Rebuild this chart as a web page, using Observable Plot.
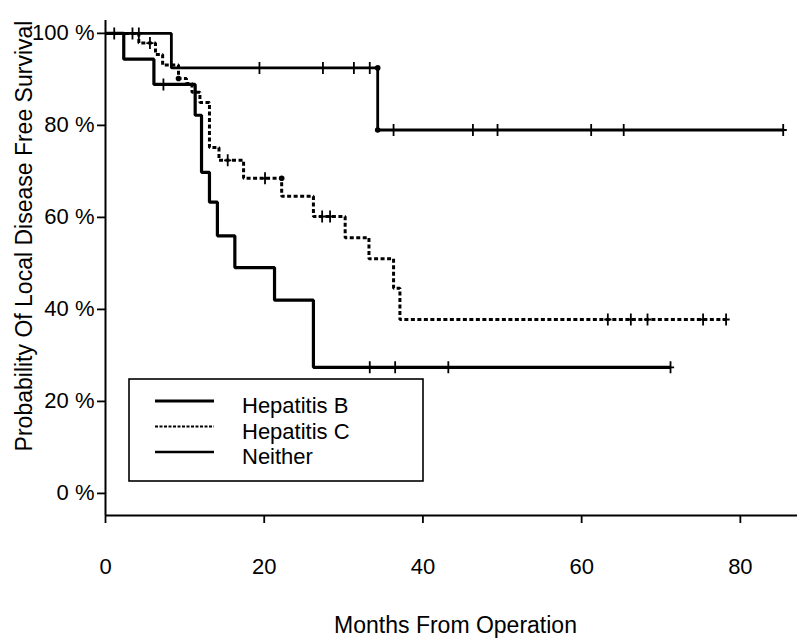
<!DOCTYPE html>
<html><head><meta charset="utf-8">
<script src="https://cdn.jsdelivr.net/npm/d3@7"></script>
<script src="https://cdn.jsdelivr.net/npm/@observablehq/plot@0.6"></script>
<style>
html,body{margin:0;padding:0;background:#fff;}
#wrap{position:relative;width:797px;height:638px;font-family:"Liberation Sans",Arial,sans-serif;}
#legend{position:absolute;left:128px;top:378px;}
</style></head><body><div id="wrap"></div>
<script>
// ---- data ----
const seriesNames = ["Hepatitis B", "Hepatitis C", "Neither"];

const hepBTimes = [0, 2.3, 6.1, 11.3, 12.1, 13.1, 14.1, 16.3, 21.3, 26.2, 71.2];
const hepBSurv  = [100, 94.4, 88.9, 82.2, 69.8, 63.3, 56.0, 49.1, 42.0, 27.4, 27.4];
const hepBCensorTimes = [7.3, 33.3, 36.5, 43.2, 71.2];
const hepBCensorSurv  = [88.9, 27.4, 27.4, 27.4, 27.4];

const hepCTimes = [0, 4.2, 6.3, 7.2, 9.2, 10.2, 10.9, 11.9, 13.1, 14.3, 17.4, 22.2, 26.2, 30.2, 33.2, 36.3, 37.1, 78.2];
const hepCSurv  = [100, 97.9, 95.4, 93.1, 90.2, 89.1, 87.2, 85.0, 75.2, 72.4, 68.5, 64.6, 60.2, 55.6, 51.0, 44.6, 37.8, 37.8];
const hepCCensorTimes = [5.6, 15.4, 20.1, 27.3, 28.3, 63.3, 66.2, 68.3, 75.3, 78.2];
const hepCCensorSurv  = [97.9, 72.4, 68.5, 60.2, 60.2, 37.8, 37.8, 37.8, 37.8, 37.8];
const hepCDotTimes = [9.2, 22.2];
const hepCDotSurv  = [90.2, 68.5];

const neitherTimes = [0, 8.3, 34.3, 85.4];
const neitherSurv  = [100, 92.5, 79.0, 79.0];
const neitherCensorTimes = [1.1, 3.4, 4.2, 19.4, 27.4, 31.3, 33.3, 36.3, 46.3, 49.4, 61.2, 65.3, 85.4];
const neitherCensorSurv  = [100, 100, 100, 92.5, 92.5, 92.5, 92.5, 79.0, 79.0, 79.0, 79.0, 79.0, 79.0];
const neitherDotTimes = [34.3, 34.3];
const neitherDotSurv  = [92.5, 79.0];

const xTicks = [0, 20, 40, 60, 80];
const yTicks = [0, 20, 40, 60, 80, 100];
const xDomain = [0, 87.2];
const yDomain = [-4.8, 102.8];
const xTitle = "Months From Operation";
const yTitle = "Probability Of Local Disease Free Survival";

// ---- build tables ----
const zip = (t, s) => t.map((v, i) => ({t: v, s: s[i]}));
const hepB = zip(hepBTimes, hepBSurv), hepBC = zip(hepBCensorTimes, hepBCensorSurv);
const hepC = zip(hepCTimes, hepCSurv), hepCC = zip(hepCCensorTimes, hepCCensorSurv), hepCD = zip(hepCDotTimes, hepCDotSurv);
const nei = zip(neitherTimes, neitherSurv), neiC = zip(neitherCensorTimes, neitherCensorSurv), neiD = zip(neitherDotTimes, neitherDotSurv);

// censor "+" symbol
const censorSymbol = {
  draw(ctx, size) {
    const h = Math.sqrt(size / Math.PI);
    ctx.moveTo(0, -h); ctx.lineTo(0, h);
    ctx.moveTo(-h * 0.6, 0); ctx.lineTo(h * 0.6, 0);
  }
};
const censor = (data) => Plot.dot(data, {x: "t", y: "s", symbol: censorSymbol, r: 6, stroke: "black", fill: "none", strokeWidth: 1.8});
const corner = (data) => Plot.dot(data, {x: "t", y: "s", r: 2.8, fill: "black", stroke: "none"});

const font = '"Liberation Sans", Arial, sans-serif';
const chart = Plot.plot({
  width: 797, height: 638,
  marginLeft: 105, marginRight: 0, marginTop: 20, marginBottom: 123,
  style: {fontFamily: font, fontSize: "22px", color: "black", background: "white", overflow: "visible"},
  x: {domain: xDomain, ticks: xTicks, tickSize: 8, tickPadding: 35, label: null},
  y: {domain: yDomain, ticks: yTicks, tickSize: 8, tickPadding: 3, tickFormat: d => `${d} %`, label: null},
  marks: [
    Plot.ruleX([xDomain[0]], {stroke: "black", strokeWidth: 2}),
    Plot.ruleY([yDomain[0]], {stroke: "black", strokeWidth: 2}),
    Plot.line(nei, {x: "t", y: "s", curve: "step-after", stroke: "black", strokeWidth: 2.8, strokeLinecap: "butt", strokeLinejoin: "miter"}),
    Plot.line(hepC, {x: "t", y: "s", curve: "step-after", stroke: "black", strokeWidth: 3, strokeDasharray: "4,2.5", strokeLinecap: "butt", strokeLinejoin: "miter"}),
    Plot.line(hepB, {x: "t", y: "s", curve: "step-after", stroke: "black", strokeWidth: 3.2, strokeLinecap: "butt", strokeLinejoin: "miter"}),
    censor(neiC), censor(hepCC), censor(hepBC),
    corner(neiD), corner(hepCD),
    Plot.text([xTitle], {text: d => d, frameAnchor: "bottom", textAnchor: "middle", lineAnchor: "middle", dx: 4, dy: 110, fontSize: 23}),
    Plot.text([yTitle], {text: d => d, frameAnchor: "left", textAnchor: "middle", lineAnchor: "middle", rotate: -90, dx: -81, dy: -32, fontSize: 23})
  ]
});
d3.select(chart).selectAll('g[aria-label^="x-axis"] line, g[aria-label^="x-axis"] path, g[aria-label^="y-axis"] line, g[aria-label^="y-axis"] path')
  .attr("stroke-width", 1.8);
const wrap = document.getElementById("wrap");
wrap.appendChild(chart);

// ---- legend inside plot area ----
const legendStyles = [
  {w: 3.2, dash: null},
  {w: 2, dash: "3,1.5"},
  {w: 2.6, dash: null}
];
const lg = d3.select(wrap).append("svg").attr("id", "legend").attr("width", 298).attr("height", 106);
lg.append("rect").attr("x", 1).attr("y", 1).attr("width", 294).attr("height", 102)
  .attr("fill", "white").attr("stroke", "black").attr("stroke-width", 1.6);
seriesNames.forEach((name, i) => {
  const y = 23 + i * 25.5;
  lg.append("line").attr("x1", 27).attr("x2", 86).attr("y1", y).attr("y2", y)
    .attr("stroke", "black").attr("stroke-width", legendStyles[i].w)
    .attr("stroke-dasharray", legendStyles[i].dash);
  lg.append("text").attr("x", 114).attr("y", y + 12).text(name)
    .attr("font-family", font).attr("font-size", 22).attr("fill", "black");
});
</script></body></html>
